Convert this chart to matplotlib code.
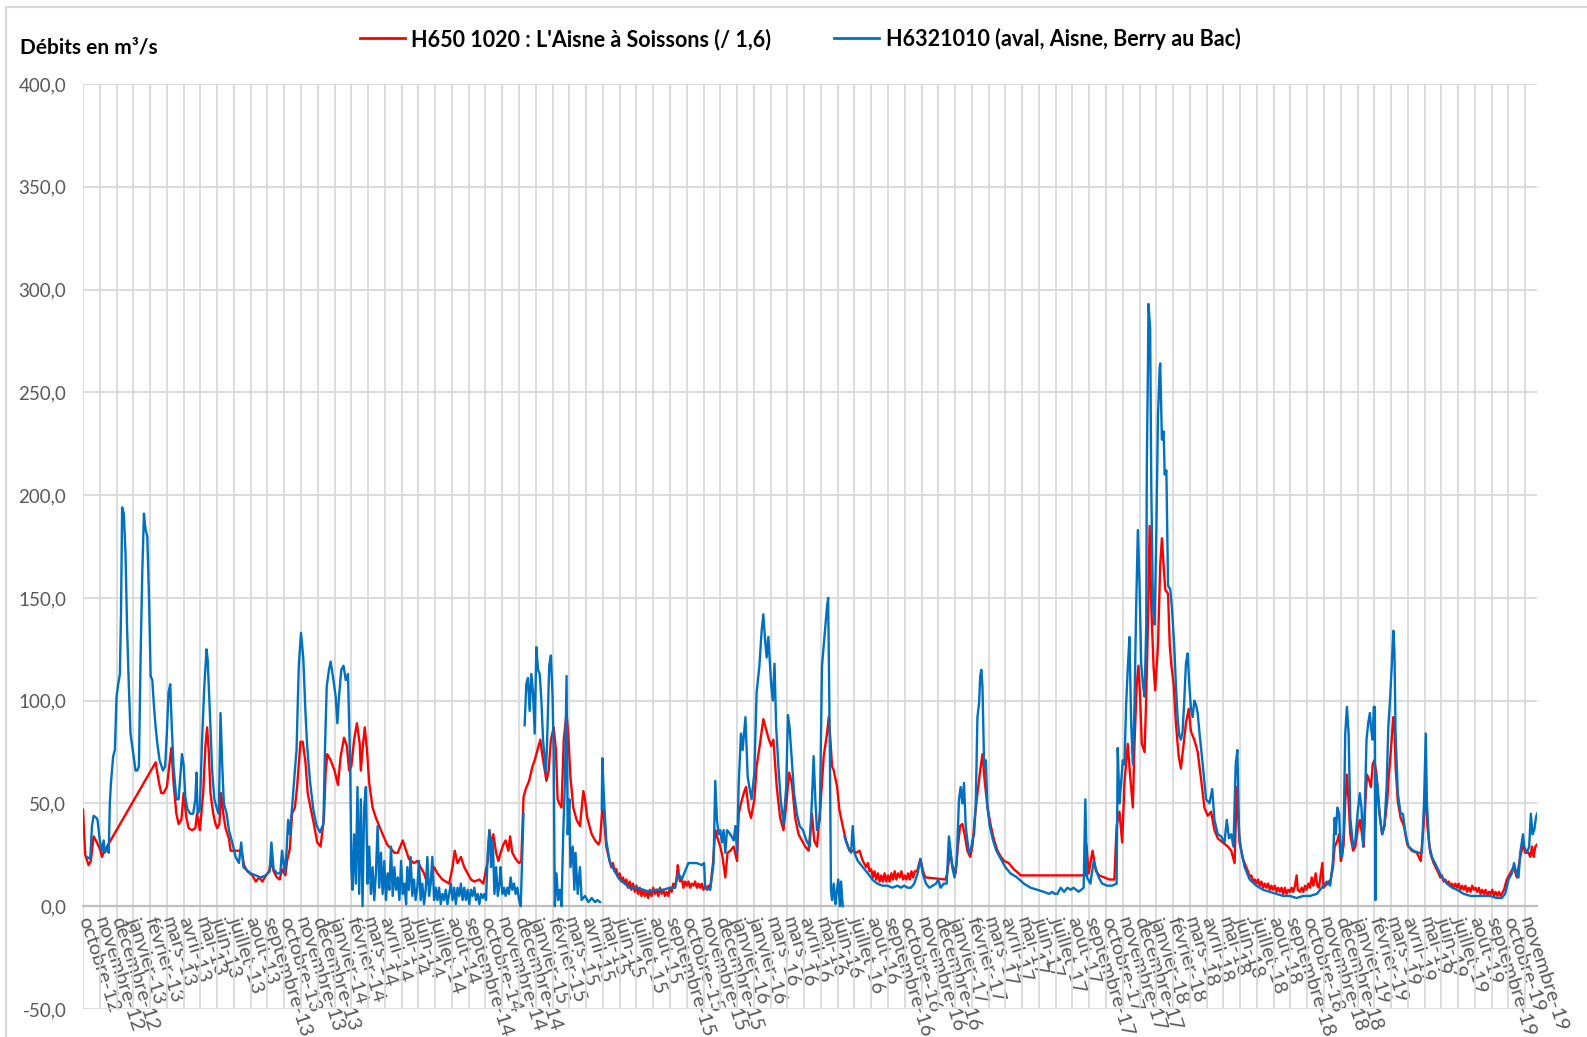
import numpy as np
import matplotlib
matplotlib.use("Agg")
import matplotlib.pyplot as plt
from matplotlib.lines import Line2D
from matplotlib.font_manager import FontProperties
from matplotlib.ticker import FuncFormatter

nan = np.nan

# Daily records as (day, discharge); day counted from 18/10/2012 (one row per day)
red_points = [
    (0, 47), (4, 25), (10, 20), (14, 22), (19, 34), (25, 31), (30, 28), (34, 24), (38, 27), (41, 27), (43, 29),
    (130, 70), (131, 68), (136, 60), (140, 55), (144, 55), (150, 58), (155, 70), (158, 77), (162, 60),
    (167, 45), (171, 40), (176, 42), (180, 55), (185, 43), (189, 38), (195, 37), (201, 38), (204, 45), (209, 37),
    (215, 55), (219, 78), (222, 87), (225, 75), (228, 55), (233, 45), (237, 40), (240, 38), (244, 40), (247, 55),
    (251, 45), (255, 38), (261, 33), (264, 27), (283, 27), (285, 25), (288, 20), (294, 17), (303, 15), (309, 12),
    (315, 14), (321, 12), (327, 15), (333, 17), (336, 22), (341, 17), (347, 14), (352, 13), (356, 18), (362, 15),
    (365, 22), (370, 28), (374, 45), (379, 48), (383, 58), (389, 80), (393, 80), (398, 70), (402, 55), (407, 48),
    (413, 40), (419, 31), (425, 29), (431, 43), (434, 65), (437, 74), (443, 71), (450, 66), (456, 59), (461, 73),
    (467, 82), (472, 78), (476, 66), (480, 68), (485, 81), (490, 89), (495, 79), (497, 66), (500, 76), (504, 87),
    (508, 76), (512, 60), (518, 48), (524, 43), (530, 39), (536, 35), (544, 30), (551, 28), (557, 26), (563, 26),
    (572, 32), (578, 27), (583, 23), (592, 21), (598, 22), (604, 19), (610, 16), (616, 11), (622, 13), (628, 19),
    (634, 16), (643, 13), (649, 12), (655, 11), (661, 19), (665, 27), (670, 21), (676, 24), (682, 19), (688, 16),
    (694, 13), (700, 12), (709, 13), (716, 11), (724, 22), (727, 37), (731, 29), (734, 35), (739, 26), (743, 22),
    (747, 26), (752, 30), (756, 32), (761, 27), (764, 34), (768, 26), (774, 23), (780, 21), (784, 22), (788, 53),
    (792, 57), (798, 61), (804, 68), (808, 71), (813, 76), (818, 81), (822, 73), (825, 68), (829, 61), (833, 66),
    (837, 81), (842, 87), (846, 76), (849, 52), (852, 50), (856, 48), (860, 81), (865, 94), (868, 84), (872, 63),
    (877, 48), (883, 42), (889, 39), (895, 56), (898, 52), (902, 43), (910, 35), (916, 32), (922, 30), (925, 32),
    (929, 48), (932, 43), (936, 29),
    (942, 22), (945, 19), (948, 21), (951, 17), (954, 18), (957, 14), (960, 16), (963, 12), (966, 14), (969, 11),
    (972, 13), (975, 9), (978, 12), (981, 8), (984, 11), (987, 7), (990, 10), (993, 6), (996, 9), (999, 5),
    (1002, 8), (1005, 5), (1008, 7), (1011, 4), (1014, 8), (1017, 5), (1020, 9), (1023, 6), (1026, 8), (1029, 5),
    (1032, 9), (1035, 6), (1038, 8), (1041, 5), (1044, 7), (1047, 5), (1050, 9), (1053, 7), (1056, 11), (1059, 9),
    (1062, 14), (1064, 20), (1066, 15), (1068, 12), (1071, 14), (1074, 9), (1077, 12), (1080, 10), (1083, 12), (1086, 9),
    (1089, 11), (1092, 10), (1095, 12), (1098, 9), (1101, 11), (1104, 9), (1107, 11), (1110, 8), (1113, 10), (1116, 8),
    (1119, 10), (1122, 9),
    (1127, 21), (1131, 37), (1134, 34), (1140, 29), (1144, 24), (1149, 14), (1153, 26), (1158, 27), (1164, 29), (1170, 22),
    (1173, 45), (1177, 50), (1182, 55), (1186, 58), (1191, 47), (1195, 43), (1201, 52), (1205, 68), (1211, 79), (1217, 91),
    (1222, 86), (1226, 82), (1231, 78), (1235, 81), (1241, 58), (1247, 43), (1253, 37), (1259, 52), (1263, 65), (1268, 60),
    (1274, 43), (1280, 35), (1286, 32), (1292, 29), (1298, 27), (1304, 45), (1308, 32), (1313, 29), (1319, 48), (1325, 73),
    (1331, 84), (1334, 92), (1337, 81), (1340, 68), (1343, 66), (1349, 58), (1353, 47), (1359, 39), (1365, 32), (1371, 27),
    (1377, 27), (1383, 26), (1389, 27), (1395, 22),
    (1401, 19), (1404, 21), (1407, 17), (1410, 18), (1413, 14), (1416, 17), (1419, 13), (1422, 16), (1425, 12), (1428, 15),
    (1431, 12), (1434, 16), (1437, 12), (1440, 15), (1443, 12), (1446, 16), (1449, 13), (1452, 17), (1455, 13), (1458, 16),
    (1461, 14), (1464, 17), (1467, 13), (1470, 15), (1473, 13), (1476, 16), (1479, 13), (1482, 17), (1485, 14), (1488, 17),
    (1492, 17), (1495, 20), (1498, 23), (1502, 18), (1505, 15), (1508, 14),
    (1543, 13), (1546, 16), (1551, 27), (1555, 20), (1561, 16), (1565, 29), (1569, 39), (1573, 40), (1577, 35), (1582, 27),
    (1587, 24), (1591, 29), (1595, 42), (1600, 55), (1605, 66), (1609, 74), (1613, 61), (1618, 48), (1624, 39), (1630, 32),
    (1636, 27), (1642, 24), (1648, 22), (1656, 21), (1665, 18), (1674, 16), (1677, 15), (1793, 15), (1795, 30), (1799, 16),
    (1806, 27), (1812, 17), (1818, 15), (1827, 14), (1836, 13), (1845, 13), (1849, 39), (1854, 46), (1859, 31), (1863, 60),
    (1869, 79), (1873, 64), (1878, 48), (1881, 79), (1885, 108), (1888, 117), (1891, 102), (1894, 79), (1899, 75), (1902, 102),
    (1905, 137), (1908, 185), (1911, 146), (1915, 117), (1918, 105), (1923, 127), (1927, 166), (1930, 179), (1933, 166), (1936, 154),
    (1941, 152), (1944, 127), (1947, 117), (1951, 108), (1955, 89), (1960, 73), (1964, 67), (1969, 79), (1973, 89), (1978, 96),
    (1982, 85), (1988, 81), (1994, 75), (2000, 62), (2006, 48), (2012, 44), (2018, 46), (2024, 37), (2030, 33), (2039, 31),
    (2048, 29), (2054, 27), (2060, 21), (2064, 58), (2069, 31), (2075, 23),
    (2084, 17), (2087, 14), (2090, 15), (2093, 12), (2096, 13), (2099, 11), (2102, 13), (2105, 10), (2108, 12), (2111, 9),
    (2114, 11), (2117, 9), (2120, 11), (2123, 8), (2126, 10), (2129, 8), (2132, 10), (2135, 7), (2138, 9), (2141, 7),
    (2144, 9), (2147, 6), (2150, 9), (2153, 6), (2156, 8), (2159, 7), (2162, 9), (2165, 7), (2168, 10), (2171, 15),
    (2173, 8), (2177, 7), (2180, 9), (2183, 7), (2186, 10), (2189, 8), (2192, 11), (2195, 9), (2198, 14), (2201, 10),
    (2205, 16), (2208, 10), (2211, 9),
    (2217, 21), (2219, 9), (2226, 11), (2232, 13), (2236, 19), (2239, 29), (2244, 32), (2247, 35), (2250, 22), (2252, 24),
    (2255, 30), (2258, 51), (2261, 64), (2264, 51), (2267, 35), (2272, 27), (2276, 29), (2280, 37), (2284, 42), (2288, 35),
    (2291, 29), (2294, 51), (2297, 64), (2301, 61), (2304, 58), (2307, 69), (2310, 71), (2314, 64), (2318, 48), (2324, 35),
    (2328, 39), (2333, 51), (2336, 64), (2340, 77), (2344, 92), (2346, 90), (2348, 68), (2352, 51), (2357, 43), (2363, 39),
    (2369, 30), (2377, 27), (2386, 26), (2393, 22), (2398, 39), (2402, 58), (2405, 39), (2410, 26), (2416, 21),
    (2425, 16), (2428, 14), (2431, 15), (2434, 12), (2437, 13), (2440, 11), (2443, 12), (2446, 10), (2449, 11), (2452, 9),
    (2455, 11), (2458, 9), (2461, 11), (2464, 8), (2467, 10), (2470, 8), (2473, 10), (2476, 7), (2479, 9), (2482, 7),
    (2485, 10), (2488, 8), (2491, 9), (2494, 7), (2497, 9), (2500, 6), (2503, 8), (2506, 6), (2509, 8), (2512, 5),
    (2515, 7), (2518, 6), (2521, 8), (2524, 5), (2527, 7), (2530, 5), (2533, 7), (2536, 5), (2538, 6), (2542, 8),
    (2547, 13), (2553, 16), (2559, 19), (2565, 14), (2571, 24), (2576, 30), (2580, 26), (2586, 26), (2589, 24), (2592, 29),
    (2595, 24), (2598, 29), (2601, 30),
]

# nan marks days without any record (the line is broken there)
blue_points = [
    (7, 24), (13, 23), (16, 39), (19, 44), (24, 43), (26, 42), (30, 32), (34, 27), (37, 32), (39, 26),
    (43, 29), (46, 26), (48, 50), (50, 60), (54, 73), (57, 76), (60, 102), (63, 108), (66, 113), (68, 143),
    (70, 194), (73, 191), (76, 172), (79, 134), (82, 107), (85, 84), (90, 74), (94, 66), (97, 66), (100, 68),
    (103, 121), (106, 162), (109, 191), (112, 183), (115, 180), (118, 151), (121, 112), (124, 110), (127, 97), (130, 87),
    (133, 79), (137, 71), (143, 66), (147, 68), (150, 84), (153, 104), (156, 108), (159, 86), (162, 68), (167, 52),
    (171, 52), (177, 74), (180, 69), (183, 53), (187, 47), (192, 45), (197, 45), (201, 52), (203, 65), (205, 45),
    (209, 47), (213, 81), (217, 107), (221, 125), (223, 120), (227, 94), (231, 66), (235, 52), (240, 47), (243, 45),
    (246, 94), (249, 69), (252, 50), (257, 45), (261, 37), (267, 31), (273, 24), (279, 21), (283, 31), (287, 19),
    (291, 18), (300, 16), (309, 15), (318, 14), (327, 15), (334, 17), (337, 31), (341, 18), (347, 16), (353, 16),
    (356, 27), (361, 16), (364, 26), (367, 42), (370, 35), (374, 48), (379, 66), (382, 76), (386, 117), (390, 133),
    (394, 121), (398, 94), (401, 78), (406, 61), (412, 47), (418, 39), (424, 36), (430, 40), (433, 78), (436, 107),
    (440, 115), (443, 119), (448, 110), (452, 102), (455, 89), (458, 102), (462, 115), (466, 117), (470, 110), (474, 113),
    (478, 68), (480, 19), (482, 8), (485, 35), (488, 11), (491, 58), (494, 6), (497, 52), (500, 0), (503, 48),
    (506, 58), (509, 11), (512, 29), (515, 6), (518, 19), (521, 3), (524, 16), (527, 39), (530, 9), (533, 26),
    (536, 6), (539, 22), (542, 3), (545, 16), (548, 8), (551, 29), (554, 5), (557, 19), (560, 8), (563, 14),
    (566, 3), (569, 22), (572, 6), (575, 11), (578, 1), (580, 19), (583, 8), (586, 24), (589, 5), (592, 13),
    (595, 3), (598, 9), (601, 22), (604, 3), (607, 11), (610, 1), (613, 8), (616, 24), (619, 5), (622, 11),
    (625, 24), (628, 3), (631, 9), (634, 3), (637, 9), (640, 1), (643, 6), (646, 3), (649, 8), (652, 1),
    (655, 6), (658, 11), (661, 3), (664, 9), (667, 1), (670, 9), (673, 5), (676, 11), (679, 3), (682, 9),
    (685, 3), (688, 8), (691, 1), (694, 8), (697, 5), (700, 9), (703, 3), (706, 6), (709, 1), (712, 6),
    (715, 4), (718, 6), (721, 3), (724, 26), (727, 37), (730, 19), (733, 32), (736, 6), (739, 19), (742, 5),
    (745, 11), (747, 19), (750, 6), (753, 9), (756, 5), (759, 9), (762, 6), (765, 14), (768, 8), (771, 11),
    (774, 6), (777, 9), (780, 3), (783, 0), (786, 26), (788, 45), (789, nan),
    (790, 88), (793, 108), (796, 111), (799, 95), (802, 113), (805, 104), (808, 84), (811, 126), (814, 115), (817, 113),
    (820, 100), (823, 81), (828, 65), (830, 78), (834, 117), (837, 122), (840, 102), (842, 73), (844, 0), (847, 16),
    (850, 3), (853, 8), (856, 0), (859, 35), (862, 60), (865, 112), (867, 35), (870, 52), (872, 19), (876, 29),
    (879, 8), (881, 26), (885, 6), (889, 19), (892, 3), (898, 5), (904, 2), (910, 4), (916, 2), (920, 3),
    (925, 2), (926, nan),
    (928, 47), (929, 72), (932, 52), (936, 32), (942, 22), (951, 17), (960, 13), (969, 11), (978, 9), (990, 9),
    (1002, 8), (1014, 7), (1026, 8), (1038, 8), (1050, 9), (1059, 9), (1065, 16), (1071, 13), (1077, 17), (1083, 21),
    (1089, 21), (1098, 21), (1107, 20), (1111, 21), (1113, 9), (1122, 8), (1128, 21), (1131, 61), (1134, 42), (1137, 35),
    (1140, 37), (1143, 31), (1146, 37), (1149, 26), (1152, 37), (1158, 35), (1164, 32), (1167, 39), (1170, 26), (1173, 60),
    (1177, 84), (1180, 76), (1185, 92), (1189, 63), (1192, 58), (1196, 52), (1201, 65), (1205, 104), (1210, 117), (1214, 134),
    (1217, 142), (1220, 130), (1223, 121), (1226, 131), (1231, 108), (1234, 100), (1237, 118), (1240, 87), (1244, 68), (1248, 52),
    (1253, 40), (1258, 58), (1261, 93), (1264, 87), (1268, 71), (1272, 55), (1277, 45), (1282, 39), (1288, 37), (1294, 32),
    (1300, 29), (1304, 52), (1307, 73), (1310, 52), (1313, 37), (1318, 42), (1322, 117), (1326, 130), (1331, 146), (1333, 150),
    (1336, 76), (1338, 8), (1340, 3), (1343, 11), (1346, 1), (1348, 6), (1351, 13), (1354, 0), (1356, 12), (1359, 0),
    (1360, nan),
    (1362, 34), (1368, 29), (1374, 26), (1377, 39), (1380, 26), (1386, 22), (1392, 20), (1398, 18), (1404, 16), (1412, 13),
    (1421, 11), (1430, 10), (1439, 10), (1448, 9), (1457, 10), (1463, 9), (1469, 10), (1475, 9), (1481, 9), (1487, 11),
    (1493, 16), (1498, 23), (1502, 16), (1508, 11), (1514, 9), (1520, 10), (1526, 11), (1530, 13), (1534, 9), (1540, 11),
    (1545, 11), (1549, 34), (1552, 27), (1555, 19), (1559, 14), (1563, 22), (1567, 52), (1570, 58), (1573, 50), (1576, 60),
    (1579, 39), (1582, 32), (1585, 26), (1588, 27), (1591, 32), (1594, 35), (1597, 50), (1600, 92), (1603, 99), (1605, 112),
    (1607, 115), (1609, 107), (1612, 68), (1615, 71), (1618, 48), (1622, 39), (1628, 32), (1634, 27), (1642, 23), (1650, 19),
    (1659, 16), (1671, 14), (1683, 11), (1695, 9), (1707, 8), (1719, 7), (1728, 6), (1734, 7), (1738, 6), (1743, 6),
    (1749, 9), (1755, 7), (1761, 9), (1767, 8), (1772, 9), (1781, 7), (1790, 9), (1793, 52), (1796, 14), (1802, 11),
    (1808, 22), (1811, 19), (1817, 14), (1823, 11), (1832, 10), (1841, 10), (1849, 11), (1851, 77), (1854, 50), (1857, 60),
    (1860, 71), (1863, 69), (1866, 98), (1869, 116), (1872, 131), (1875, 89), (1878, 69), (1881, 98), (1884, 146), (1887, 183),
    (1890, 156), (1893, 118), (1896, 108), (1899, 102), (1902, 137), (1903, 214), (1905, 262), (1906, 293), (1909, 281), (1911, 204),
    (1914, 146), (1917, 137), (1920, 181), (1923, 239), (1926, 262), (1927, 264), (1930, 227), (1933, 231), (1935, 210), (1938, 212),
    (1941, 156), (1945, 154), (1948, 145), (1952, 127), (1955, 108), (1958, 92), (1961, 83), (1964, 81), (1967, 85), (1970, 100),
    (1973, 118), (1976, 123), (1979, 108), (1982, 96), (1985, 92), (1988, 100), (1991, 98), (1994, 94), (1997, 85), (2003, 69),
    (2009, 52), (2015, 50), (2020, 57), (2024, 42), (2030, 35), (2036, 34), (2042, 31), (2046, 42), (2050, 33), (2054, 35),
    (2058, 29), (2062, 69), (2065, 76), (2068, 35), (2072, 27), (2078, 19), (2087, 13), (2099, 10), (2111, 8), (2123, 7),
    (2135, 6), (2147, 5), (2159, 5), (2171, 4), (2183, 5), (2195, 5), (2207, 6), (2213, 8), (2219, 10), (2225, 12),
    (2231, 10), (2236, 22), (2239, 43), (2241, 35), (2244, 48), (2247, 45), (2250, 26), (2252, 24), (2255, 35), (2258, 84),
    (2261, 97), (2264, 84), (2267, 43), (2272, 29), (2276, 32), (2280, 45), (2284, 55), (2287, 48), (2290, 29), (2293, 48),
    (2296, 81), (2299, 89), (2302, 94), (2304, 87), (2307, 81), (2309, 97), (2311, 97), (2312, 3), (2313, 64), (2316, 58),
    (2320, 43), (2324, 35), (2328, 39), (2332, 58), (2335, 87), (2338, 100), (2341, 116), (2344, 134), (2346, 124), (2348, 84),
    (2352, 55), (2357, 45), (2361, 45), (2366, 35), (2371, 29), (2380, 27), (2389, 26), (2395, 26), (2399, 51), (2402, 84),
    (2404, 51), (2408, 30), (2413, 24), (2422, 19), (2431, 14), (2440, 11), (2449, 9), (2458, 8), (2470, 6), (2482, 5),
    (2493, 5), (2505, 5), (2517, 5), (2529, 4), (2538, 4), (2544, 6), (2550, 13), (2556, 16), (2560, 21), (2564, 16),
    (2568, 14), (2571, 26), (2576, 35), (2578, 29), (2583, 26), (2587, 29), (2590, 45), (2593, 35), (2596, 37), (2599, 43),
    (2601, 45),
]

month_labels = [
    "octobre-12", "novembre-12", "décembre-12",
    "janvier-13", "février-13", "mars-13", "avril-13", "mai-13", "juin-13",
    "juillet-13", "août-13", "septembre-13", "octobre-13", "novembre-13", "décembre-13",
    "janvier-14", "février-14", "mars-14", "avril-14", "mai-14", "juin-14",
    "juillet-14", "août-14", "septembre-14", "octobre-14", "novembre-14", "décembre-14",
    "janvier-15", "février-15", "mars-15", "avril-15", "mai-15", "juin-15",
    "juillet-15", "août-15", "septembre-15", "octobre-15", "novembre-15", "décembre-15",
    "janvier-16", "janvier-16", "mars-16", "mars-16", "avril-16", "mai-16", "juin-16",
    "juillet-16", "août-16", "septembre-16", "octobre-16", "novembre-16", "décembre-16",
    "janvier-17", "février-17", "mars-17", "avril-17", "mai-17", "juin-17",
    "juillet-17", "août-17", "septembre-17", "octobre-17", "novembre-17", "décembre-17",
    "janvier-18", "février-18", "mars-18", "avril-18", "mai-18", "juin-18",
    "juillet-18", "août-18", "septembre-18", "octobre-18", "novembre-18", "décembre-18",
    "janvier-19", "février-19", "mars-19", "avril-19", "mai-19", "juin-19",
    "juillet-19", "août-19", "septembre-19", "octobre-19", "novembre-19",
]
label_step = 30          # one category label every 30 daily rows
last_day = 2601

red_name = "H650 1020 : L'Aisne à Soissons (/ 1,6)"
blue_name = "H6321010 (aval, Aisne, Berry au Bac)"
RED = "#FF0000"
BLUE = "#0070C0"
GRID = "#D9D9D9"
TXT = "#595959"
FONT = ["Lato", "DejaVu Sans"]

plt.rcParams["font.family"] = FONT

red_day, red_q = zip(*red_points)
blue_day, blue_q = zip(*blue_points)

W, H = 1587, 1037
fig = plt.figure(figsize=(W / 100, H / 100), dpi=100)
fig.patch.set_facecolor("white")

left, right, top, bottom = 83, 1537, 84, 1009
ax = fig.add_axes([left / W, 1 - bottom / H, (right - left) / W, (bottom - top) / H])

# the category axis crosses the value axis at 0
for s in ["top", "right", "left"]:
    ax.spines[s].set_visible(False)
ax.spines["bottom"].set_position(("data", 0))
ax.spines["bottom"].set_color("#BFBFBF")
ax.spines["bottom"].set_linewidth(1.6)
ax.spines["bottom"].set_zorder(2)

ax.plot(red_day, red_q, color=RED, lw=1.7, solid_joinstyle="round", zorder=3)
ax.plot(blue_day, blue_q, color=BLUE, lw=1.7, solid_joinstyle="round", zorder=4)

ax.set_xlim(0, last_day)
ax.set_ylim(-50, 400)
ax.set_yticks(np.arange(-50, 401, 50))
ax.yaxis.set_major_formatter(FuncFormatter(lambda v, p: f"{v:.1f}".replace(".", ",")))

ticks = [label_step * k for k in range(len(month_labels))]
ax.set_xticks(ticks)
ax.set_xticklabels(month_labels)
ax.tick_params(axis="y", length=0, pad=12, labelsize=13.5, labelcolor=TXT)
ax.tick_params(axis="x", length=0, pad=8, labelsize=14.5, labelcolor=TXT)
for lab in ax.get_xticklabels():
    lab.set_rotation(-72)
    lab.set_rotation_mode("anchor")
    lab.set_ha("left")
    lab.set_va("center")

ax.grid(True, color=GRID, lw=1.3)
ax.set_axisbelow(True)

fig.text(20 / W, 1 - 47 / H, "Débits en m³/s", ha="left", va="center",
         fontsize=15, fontweight="bold", color="black")

handles = [Line2D([], [], color=RED, lw=2), Line2D([], [], color=BLUE, lw=2)]
fig.legend(handles, [red_name, blue_name], loc="center", bbox_to_anchor=(800 / W, 1 - 39 / H),
           ncol=2, frameon=False, handlelength=2.1, handletextpad=0.3, columnspacing=2.9,
           prop=FontProperties(family=FONT, weight="bold", size=15.5))

# chart-area border
fig.add_artist(Line2D([6 / W, 1.0], [1 - 7 / H, 1 - 7 / H], transform=fig.transFigure,
                      color=GRID, lw=1.5))
fig.add_artist(Line2D([6 / W, 6 / W], [0.0, 1 - 7 / H], transform=fig.transFigure,
                      color=GRID, lw=1.5))

fig.savefig("out.png", dpi=100)
